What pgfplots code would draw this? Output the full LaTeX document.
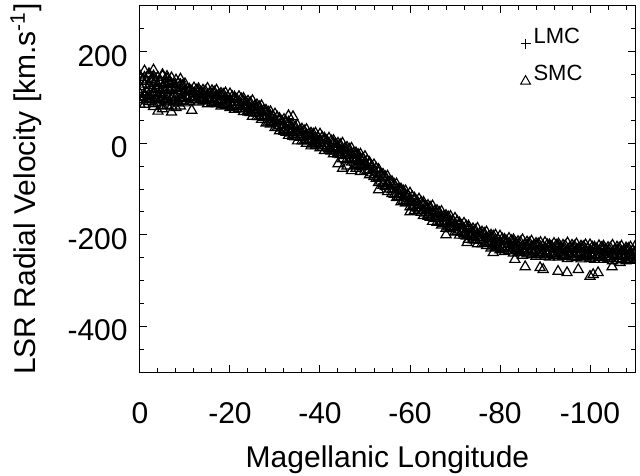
\documentclass[border=0pt]{standalone}
\usepackage{pgfplots}
\usepackage{pgfplotstable}
\pgfplotsset{compat=1.18}
\usepackage{fontspec}
\setmainfont{Liberation Sans}
\newcommand\tf{\fontsize{15}{18}\selectfont}
\newcommand\lf{\fontsize{11}{13}\selectfont}

\pgfplotstableread{
x a b d e
0 147 124 108 85
-1 144 129 107 85
-2 149 126 106 91
-3 147 130 108 86
-4 144 126 103 88
-5 147 121 106 81
-6 141 123 102 83
-7 143 120 100 81
-8 138 122 101 78
-9 140 119 97 81
-10 130 114 104 88
-11 118 114 102 91
-12 121 109 99 95
-13 119 113 101 90
-14 116 109 96 92
-15 120 105 100 86
-16 115 108 97 89
-17 116 104 94 86
-18 109 104 93 81
-19 110 100 88 83
-20 108 96 90 78
-21 101 97 85 74
-22 102 90 80 76
-23 98 92 80 69
-24 92 85 72 68
-25 93 78 73 59
-26 84 77 66 58
-27 82 70 60 52
-28 72 67 56 44
-29 69 59 47 42
-30 64 52 46 34
-31 54 50 38 27
-32 52 40 30 26
-33 46 40 28 17
-34 39 32 19 15
-35 39 24 19 5
-36 31 24 13 5
-37 30 18 8 0
-38 22 17 6 -6
-39 22 12 0 -5
-40 20 8 2 -10
-41 11 7 -5 -16
-42 11 -1 -11 -15
-43 6 0 -12 -23
-44 0 -7 -20 -24
-45 0 -15 -20 -34
-46 -9 -16 -27 -35
-47 -11 -23 -33 -41
-48 -21 -26 -37 -49
-49 -24 -34 -46 -51
-50 -29 -41 -47 -59
-51 -42 -46 -58 -69
-52 -47 -59 -69 -73
-53 -57 -63 -75 -86
-54 -68 -75 -88 -92
-55 -72 -87 -92 -106
-56 -84 -91 -102 -110
-57 -89 -101 -111 -119
-58 -100 -105 -116 -128
-59 -104 -114 -126 -131
-60 -109 -121 -127 -139
-61 -120 -124 -136 -147
-62 -122 -134 -144 -148
-63 -129 -135 -147 -158
-64 -136 -143 -156 -160
-65 -137 -152 -157 -171
-66 -147 -154 -165 -173
-67 -149 -161 -171 -179
-68 -158 -163 -174 -186
-69 -160 -170 -182 -187
-70 -164 -176 -182 -194
-71 -174 -178 -190 -201
-72 -175 -187 -197 -201
-73 -181 -187 -199 -210
-74 -187 -194 -207 -211
-75 -186 -201 -206 -220
-76 -194 -201 -212 -220
-77 -194 -206 -216 -224
-78 -201 -206 -217 -229
-79 -201 -211 -223 -228
-80 -203 -215 -221 -233
-81 -210 -214 -226 -237
-82 -208 -220 -230 -234
-83 -211 -217 -229 -240
-84 -215 -222 -235 -239
-85 -211 -226 -231 -245
-86 -216 -223 -234 -242
-87 -214 -226 -236 -244
-88 -219 -224 -235 -247
-89 -217 -227 -239 -244
-90 -217 -229 -235 -247
-91 -222 -226 -238 -249
-92 -219 -231 -241 -245
-93 -220 -226 -238 -249
-94 -223 -230 -243 -247
-95 -218 -233 -238 -252
-96 -223 -230 -241 -249
-97 -220 -232 -242 -250
-98 -225 -230 -241 -253
-99 -222 -232 -244 -249
-100 -222 -234 -240 -252
-101 -227 -231 -243 -254
-102 -224 -236 -246 -250
-103 -225 -231 -243 -254
-104 -228 -235 -248 -252
-105 -223 -238 -243 -257
-106 -227 -234 -245 -253
-107 -225 -237 -247 -255
-108 -229 -234 -245 -257
-109 -227 -237 -249 -254
-110 -226 -238 -244 -256
}\smcband

\pgfplotstableread{
x p q
-0.5 138 95
-1.5 135 99
-2.5 139 96
-3.5 134 98
-4.5 137 94
-5.5 131 95
-6.5 133 90
-7.5 128 92
-8.5 131 88
-9.5 126 92
-10.5 119 98
-11.5 114 99
-12.5 116 95
-13.5 112 97
-14.5 114 93
-15.5 110 95
-16.5 112 90
-17.5 106 91
-18.5 107 85
-19.5 101 86
-20.5 102 80
-21.5 96 81
-22.5 97 75
-23.5 90 75
-24.5 89 67
-25.5 81 66
-26.5 80 58
-27.5 71 56
-28.5 68 46
-29.5 59 44
-30.5 57 35
-31.5 48 33
-32.5 46 24
-33.5 37 22
-34.5 36 14
-35.5 28 13
-36.5 27 5
-37.5 20 5
-38.5 20 -2
-39.5 13 -2
-40.5 13 -9
-41.5 6 -9
-42.5 5 -17
-43.5 -2 -17
-44.5 -3 -25
-45.5 -12 -27
-46.5 -13 -35
-47.5 -22 -37
-48.5 -25 -47
-49.5 -34 -49
-50.5 -38 -60
-51.5 -50 -65
-52.5 -55 -77
-53.5 -68 -83
-54.5 -73 -95
-55.5 -85 -100
-56.5 -90 -112
-57.5 -101 -116
-58.5 -104 -126
-59.5 -114 -129
-60.5 -117 -139
-61.5 -126 -141
-62.5 -129 -151
-63.5 -138 -153
-64.5 -140 -162
-65.5 -149 -164
-66.5 -151 -173
-67.5 -160 -175
-68.5 -161 -183
-69.5 -170 -185
-70.5 -171 -193
-71.5 -180 -195
-72.5 -181 -203
-73.5 -189 -204
-74.5 -190 -212
-75.5 -197 -212
-76.5 -197 -219
-77.5 -204 -219
-78.5 -203 -225
-79.5 -210 -225
-80.5 -209 -231
-81.5 -214 -229
-82.5 -213 -235
-83.5 -218 -233
-84.5 -216 -238
-85.5 -221 -236
-86.5 -218 -240
-87.5 -223 -238
-88.5 -220 -242
-89.5 -225 -240
-90.5 -222 -244
-91.5 -226 -241
-92.5 -223 -245
-93.5 -227 -242
-94.5 -224 -246
-95.5 -228 -243
-96.5 -225 -247
-97.5 -229 -244
-98.5 -226 -248
-99.5 -230 -245
-100.5 -227 -249
-101.5 -231 -246
-102.5 -228 -250
-103.5 -232 -247
-104.5 -229 -251
-105.5 -233 -247
-106.5 -229 -252
-107.5 -234 -248
-108.5 -230 -253
-109.5 -235 -249
}\smchalf

\pgfplotstableread{
x y
-0.5 135
-0.5 100
-1.5 112
-1.5 95
-2.5 138
-2.5 104
-3.5 120
-3.5 96
-4.5 133
-4.5 110
-5.5 128
-5.5 92
-6.5 118
-6.5 135
-7.5 105
-7.5 128
-8.5 115
-8.5 92
-9.5 125
-9.5 100
-1 102
-2 97
-3 140
-5 98
-6 94
-7 130
-8 90
-9 128
-0.3 118
-3.3 110
-6.3 105
-4.2 100
-8.8 106
-2.7 118
-5.8 115
-1 158
-3 160
-2 152
-5 150
-6 146
-4 70
-7 68
-5 75
-11.5 72
-3 80
-33 60
-34 58
-44 -45
-45 -55
-46 -50
-47 -60
-48 -55
-49 -62
-53 -102
-60 -150
-68 -200
-72.7 -217
-78.5 -239
-83.3 -254
-85.6 -270
-88.9 -272
-89.6 -276
-92.9 -280
-94.9 -283
-97.4 -276
-100 -291
-100.7 -287
-101.8 -283
-104.9 -270
-106.7 -261
-107 -237
-108.9 -243
}\smcextra

\begin{document}
\begin{tikzpicture}
\begin{axis}[
  at={(0,0)}, anchor=south west,
  scale only axis,
  width=247.5pt, height=183pt,
  x dir=reverse,
  xmin=-110, xmax=0,
  ymin=-500, ymax=300,
  xtick={-100,-80,-60,-40,-20,0},
  xticklabels={-100,-80,-60,-40,-20,0},
  ytick={-400,-200,0,200},
  yticklabels={-400,-200,0,200},
  minor xtick={-108,-104,...,-4},
  minor ytick={-450,-400,...,250},
  tick align=inside,
  major tick length=3.5pt,
  minor tick length=2pt,
  every tick/.style={black, line width=0.5pt},
  axis line style={line width=0.5pt},
  clip marker paths=true,
  xticklabel style={font=\tf, anchor=base, inner sep=0pt, yshift=-25.5pt},
  yticklabel style={font=\tf, anchor=east, inner sep=0pt, xshift=-6pt, yshift=-2pt},
  xlabel={Magellanic Longitude},
  ylabel={LSR Radial Velocity [km.s\textsuperscript{-1}]},
  xlabel style={font=\tf, at={(axis description cs:0.5,-0.2596)}, anchor=base},
  ylabel style={font=\tf, at={(axis description cs:-0.2303,0.5)}, anchor=center},
  legend style={draw=none, fill=none, font=\lf,
    at={(rel axis cs:0.768,0.95)}, anchor=north west,
    row sep=6.5pt, inner sep=0pt,
    nodes={inner sep=1.5pt}},
  legend cell align=left,
  legend image post style={yshift=-3.5pt},
]
\addlegendimage{only marks, mark=+, mark size=2.5pt, black, line width=0.5pt}
\addlegendentry{LMC}
\addlegendimage{only marks, mark=triangle, mark size=2.8pt, black, line width=0.5pt}
\addlegendentry{SMC}
\pgfplotsset{smcstyle/.style={only marks, mark=triangle, mark size=2.9pt, black, line width=0.6pt, forget plot}}
\addplot[smcstyle] table[x=x, y=a] {\smcband};
\addplot[smcstyle] table[x=x, y=b] {\smcband};
\addplot[smcstyle] table[x=x, y=d] {\smcband};
\addplot[smcstyle] table[x=x, y=e] {\smcband};
\addplot[smcstyle] table[x=x, y=p] {\smchalf};
\addplot[smcstyle] table[x=x, y=q] {\smchalf};
\addplot[smcstyle] table[x=x, y=y] {\smcextra};
\end{axis}
\pgfresetboundingbox
\path (-70pt,-51.5pt) rectangle (250pt,186pt);
\end{tikzpicture}
\end{document}
